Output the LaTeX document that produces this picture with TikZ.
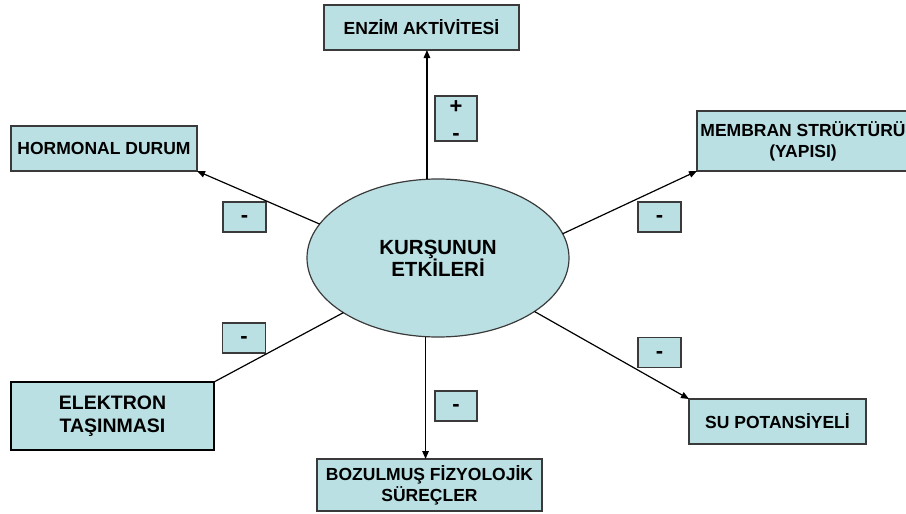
\documentclass[tikz,border=0pt]{standalone}
\usepackage{fontspec}
\setmainfont{Liberation Sans}
\usetikzlibrary{shapes.geometric,arrows.meta}
\definecolor{boxfill}{HTML}{BBE0E3}
\definecolor{boxline}{HTML}{3A3A3A}
\newcommand{\dropsign}[2]{\raisebox{-#1}[0pt][0pt]{#2}}
\begin{document}
\begin{tikzpicture}[x=1pt,y=-1pt,
  box/.style={draw=boxline,line width=1.2pt,fill=boxfill,rectangle,inner sep=0pt,outer sep=0pt,
    align=center,font=\bfseries\fontsize{17.5}{21}\selectfont},
  signbox/.style={draw=boxline,line width=1.2pt,fill=boxfill,rectangle,inner sep=0pt,outer sep=0pt,
    minimum width=43pt,minimum height=30pt,align=center,font=\bfseries\fontsize{22}{28}\selectfont},
  conn/.style={line width=1.2pt,draw=black},
  arr/.style={conn,-{Triangle[length=8pt,width=6.5pt]}}
]
\useasboundingbox (0,0) rectangle (906,514);

\node[ellipse,draw=boxline,line width=1.2pt,fill=boxfill,inner sep=0pt,outer sep=0pt,
  minimum width=262pt,minimum height=158pt,align=center,
  font=\bfseries\fontsize{20.5}{22}\selectfont] (ell) at (438,258) {KURŞUNUN\\ETKİLERİ};

\node[box,minimum width=195pt,minimum height=45pt] (enz) at (421.5,27.5) {ENZİM AKTİVİTESİ};
\node[box,minimum width=186pt,minimum height=45pt] (horm) at (104,148.5) {HORMONAL DURUM};
\node[box,minimum width=212pt,minimum height=60pt] (memb) at (803,141) {MEMBRAN STRÜKTÜRÜ\\(YAPISI)};
\node[box,minimum width=177pt,minimum height=45pt] (su) at (777.5,421.5) {SU POTANSİYELİ};
\node[box,draw=black,line width=2pt,minimum width=203pt,minimum height=68pt,
  font=\bfseries\fontsize{19.5}{23.5}\selectfont] (elek) at (112.5,416) {ELEKTRON\\TAŞINMASI};
\node[box,minimum width=225pt,minimum height=52pt] (boz) at (429.5,485) {BOZULMUŞ FİZYOLOJİK\\SÜREÇLER};

\node[signbox,minimum width=42pt,minimum height=45pt] (pm) at (456,118.5) {\dropsign{9pt}{+}\\\dropsign{8pt}{-}};
\node[signbox] (m1) at (244.5,217) {\dropsign{5.5pt}{-}};
\node[signbox] (m2) at (659.5,217) {\dropsign{5.5pt}{-}};
\node[signbox] (m3) at (244,338) {\dropsign{5.5pt}{-}};
\node[signbox] (m4) at (659.5,352.5) {\dropsign{5.5pt}{-}};
\node[signbox,minimum width=42pt] (m5) at (456,406) {\dropsign{5.5pt}{-}};

\draw[arr] (ell.98.7) -- (ell.98.7 |- enz.south);
\draw[arr] (ell.164.7) -- (horm.south east);
\draw[arr] (ell.11.7) -- (memb.south west);
\draw[arr] (ell.-29) -- (su.north west);
\draw[conn] (ell.210.7) -- (elek.north east);
\draw[arr] (ell.261.3) -- (ell.261.3 |- boz.north);
\end{tikzpicture}
\end{document}
